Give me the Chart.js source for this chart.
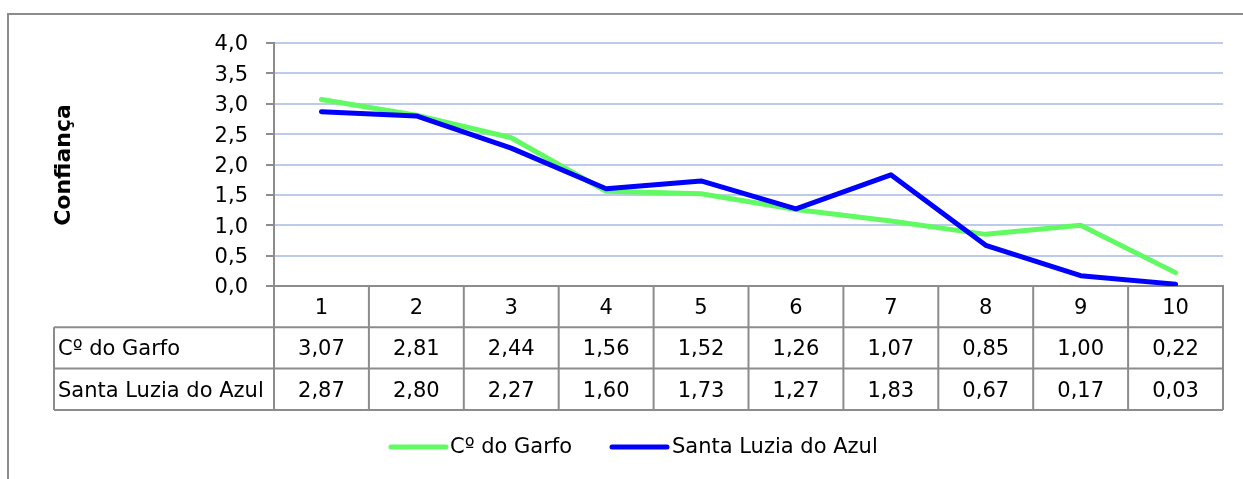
<!DOCTYPE html>
<html>
<head>
<meta charset="utf-8">
<script src="https://cdn.jsdelivr.net/npm/chart.js@4.4.1/dist/chart.umd.min.js"></script>
<style>
  html, body { margin: 0; padding: 0; background: #ffffff; }
  #wrap { width: 1243px; height: 479px; position: relative; }
</style>
</head>
<body>
<div id="wrap"><canvas id="c" width="1243" height="479"></canvas></div>
<script>
// Categories (x) and the two series of confidence scores
const categories = ['1', '2', '3', '4', '5', '6', '7', '8', '9', '10'];
const seriesNames = ['Cº do Garfo', 'Santa Luzia do Azul'];
const garfo = [3.07, 2.81, 2.44, 1.56, 1.52, 1.26, 1.07, 0.85, 1.00, 0.22];
const santaLuzia = [2.87, 2.80, 2.27, 1.60, 1.73, 1.27, 1.83, 0.67, 0.17, 0.03];
const yAxisTitle = 'Confiança';
const yMin = 0, yMax = 4, yStep = 0.5;

const seriesColors = ['#62fa62', '#0000ff'];
const FONT = '"DejaVu Sans", sans-serif';
const FS = 21;
const GREY = '#8c8c8c';
const ROW_H = 41.3;
const TABLE_LEFT = 54;

const fmt1 = v => v.toFixed(1).replace('.', ',');
const fmt2 = v => v.toFixed(2).replace('.', ',');

// Draws the outer frame, y tick marks, the data table, the legend and the axis title
const extras = {
  id: 'extras',
  afterDraw(chart) {
    const ctx = chart.ctx;
    const x = chart.scales.x, y = chart.scales.y;
    const area = chart.chartArea;
    ctx.save();

    // outer frame
    ctx.strokeStyle = GREY;
    ctx.lineWidth = 2;
    ctx.strokeRect(8, 14, 1400, 700);

    // y tick marks
    ctx.lineWidth = 2;
    ctx.beginPath();
    y.ticks.forEach(t => {
      const py = Math.round(y.getPixelForValue(t.value));
      ctx.moveTo(area.left - 8, py);
      ctx.lineTo(area.left, py);
    });
    ctx.stroke();

    // data table
    const series = [garfo, santaLuzia];
    const catW = x.getPixelForValue(1) - x.getPixelForValue(0);
    const top = area.bottom;
    const rows = [top + ROW_H, top + 2 * ROW_H, top + 3 * ROW_H];
    ctx.beginPath();
    rows.forEach(ry => { ctx.moveTo(TABLE_LEFT, ry); ctx.lineTo(area.right, ry); });
    for (let i = 0; i <= categories.length; i++) {
      const px = i < categories.length ? x.getPixelForValue(i) - catW / 2 : x.getPixelForValue(i - 1) + catW / 2;
      ctx.moveTo(px, top);
      ctx.lineTo(px, rows[2]);
    }
    ctx.moveTo(TABLE_LEFT, rows[0]);
    ctx.lineTo(TABLE_LEFT, rows[2]);
    ctx.stroke();

    ctx.fillStyle = '#000';
    ctx.font = FS + 'px ' + FONT;
    ctx.textBaseline = 'middle';
    series.forEach((vals, r) => {
      const cy = rows[r] + ROW_H / 2 + 2;
      ctx.textAlign = 'left';
      ctx.fillText(seriesNames[r], TABLE_LEFT + 4, cy);
      ctx.textAlign = 'center';
      vals.forEach((v, i) => ctx.fillText(fmt2(v), x.getPixelForValue(i), cy));
    });

    // legend
    const legY = 447;
    const legItems = [{ x: 391, tx: 450 }, { x: 612, tx: 672 }];
    legItems.forEach((it, i) => {
      ctx.strokeStyle = seriesColors[i];
      ctx.lineWidth = 5;
      ctx.lineCap = 'round';
      ctx.beginPath();
      ctx.moveTo(it.x, legY);
      ctx.lineTo(it.x + 55, legY);
      ctx.stroke();
      ctx.fillStyle = '#000';
      ctx.textAlign = 'left';
      ctx.fillText(seriesNames[i], it.tx, legY + 1);
    });

    // y axis title
    ctx.translate(64, 165);
    ctx.rotate(-Math.PI / 2);
    ctx.font = 'bold 22px ' + FONT;
    ctx.textAlign = 'center';
    ctx.fillText(yAxisTitle, 0, 0);
    ctx.restore();
  }
};

new Chart(document.getElementById('c'), {
  type: 'line',
  data: {
    labels: categories,
    datasets: [
      { label: seriesNames[0], data: garfo, borderColor: seriesColors[0], backgroundColor: seriesColors[0], order: 1 },
      { label: seriesNames[1], data: santaLuzia, borderColor: seriesColors[1], backgroundColor: seriesColors[1], order: 0 }
    ]
  },
  options: {
    responsive: false,
    animation: false,
    devicePixelRatio: 1,
    layout: { padding: { top: 43, right: 20, bottom: 479 - 286 - ROW_H, left: 0 } },
    elements: {
      line: { borderWidth: 5, tension: 0, borderCapStyle: 'round', borderJoinStyle: 'round' },
      point: { radius: 0, hoverRadius: 0 }
    },
    plugins: { legend: { display: false }, tooltip: { enabled: false } },
    scales: {
      x: {
        offset: true,
        grid: { display: false, drawTicks: false },
        border: { display: true, color: GREY, width: 2 },
        ticks: { color: '#000', font: { family: FONT, size: FS }, padding: 10, maxRotation: 0 },
        afterFit: s => { s.height = ROW_H; }
      },
      y: {
        min: yMin, max: yMax,
        grid: { color: '#bccbea', lineWidth: 2, drawTicks: false },
        border: { display: true, color: GREY, width: 2 },
        ticks: { stepSize: yStep, color: '#000', font: { family: FONT, size: FS }, padding: 26, labelOffset: 2, callback: v => fmt1(v) },
        afterFit: s => { s.width = 274; }
      }
    }
  },
  plugins: [extras]
});
</script>
</body>
</html>
